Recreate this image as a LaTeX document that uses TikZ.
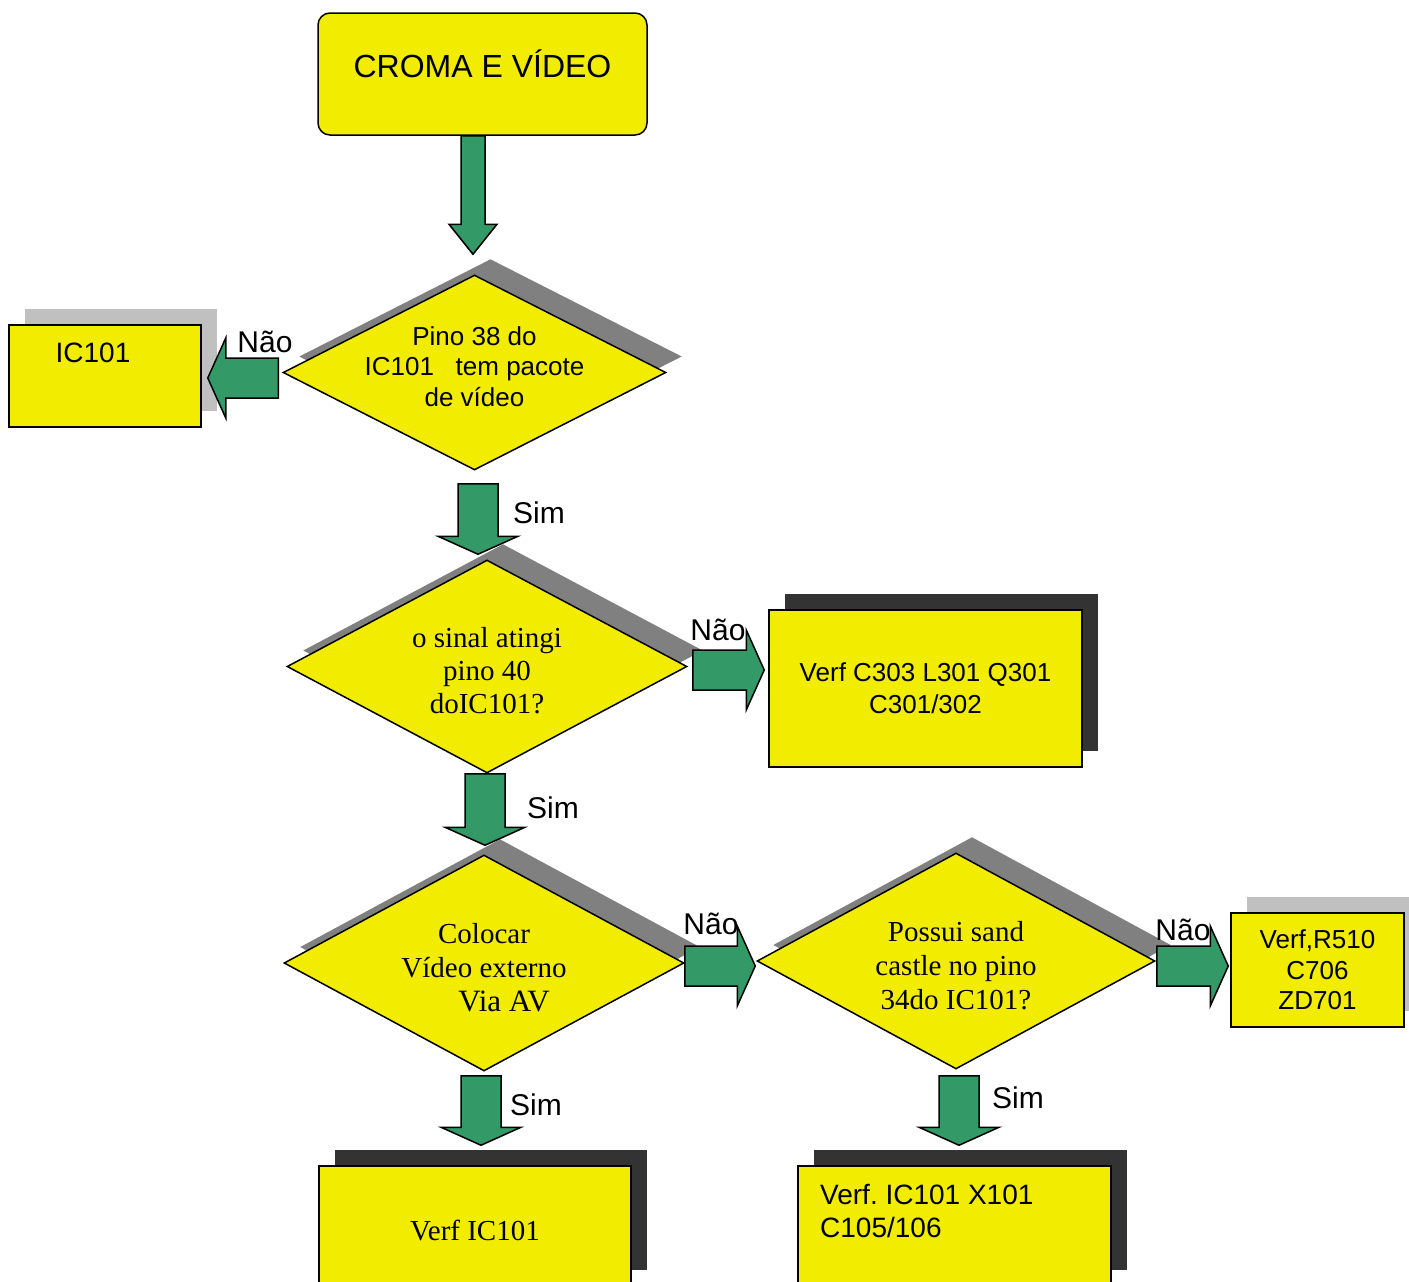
\documentclass[tikz,border=0pt]{standalone}
\usepackage{fontspec}
\setmainfont{Liberation Serif}
\setsansfont{Liberation Sans}
\usepackage{xcolor}
\usetikzlibrary{shapes.geometric,shadows,calc}

\definecolor{boxyellow}{RGB}{242,236,0}
\definecolor{arrowgreen}{RGB}{51,153,102}
\definecolor{shadelight}{RGB}{192,192,192}
\definecolor{shademid}{RGB}{128,128,128}
\definecolor{shadedark}{RGB}{51,51,51}

\newcommand\fatarrow[5]{%
  \coordinate (fabase) at ($(#2)!#5!(#1)$);
  \draw[greenarrow] ($(#1)!#3!90:(#2)$) -- ($(fabase)!#3!90:(#2)$)
    -- ($(fabase)!#4!90:(#2)$) -- (#2) -- ($(fabase)!#4!-90:(#2)$)
    -- ($(fabase)!#3!-90:(#2)$) -- ($(#1)!#3!-90:(#2)$) -- cycle;}

\begin{document}
\begin{tikzpicture}[
  x=1pt, y=-1pt,
  box/.style={draw, line width=1.5pt, fill=boxyellow, inner sep=0pt, align=center},
  question/.style={diamond, draw, line width=1.5pt, fill=boxyellow, inner sep=0pt,
    aspect=2, align=center},
  softshade/.style={drop shadow={shadow xshift=16pt, shadow yshift=16pt, fill=shadelight, opacity=1}},
  midshade/.style={drop shadow={shadow xshift=16pt, shadow yshift=16pt, fill=shademid, opacity=1}},
  darkshade/.style={drop shadow={shadow xshift=16pt, shadow yshift=16pt, fill=shadedark, opacity=1}},
  sanstext/.style={font=\sffamily\fontsize{26}{30.5}\selectfont},
  seriftext/.style={font=\fontsize{29}{33}\selectfont},
  answer/.style={font=\sffamily\fontsize{30}{36}\selectfont, inner sep=0pt},
  greenarrow/.style={draw, fill=arrowgreen, line width=1.5pt}
]
  \useasboundingbox (0,0) rectangle (1409,1282);
  \clip (0,0) rectangle (1409,1282);

  \node[box, rounded corners=12pt, minimum width=329pt, minimum height=122pt,
    font=\sffamily\fontsize{32}{38}\selectfont, text height=23pt, text depth=16pt]
    (croma) at (482.5,74) {CROMA E VÍDEO};

  \node[question, midshade, sanstext, minimum width=383pt, minimum height=195pt,
    inner sep=-10pt, text depth=12pt]
    (q1) at (474.5,372.5) {Pino 38 do\\IC101~~~tem pacote\\de vídeo};
  \node[box, softshade, minimum width=192pt, minimum height=102pt] (ic) at (105,376) {};
  \node[sanstext, font=\sffamily\fontsize{28}{33}\selectfont, inner sep=0pt]
    (ictext) at (93,353) {IC101};

  \node[question, midshade, seriftext, minimum width=400pt, minimum height=213pt,
    text height=94pt, text depth=0pt]
    (q2) at (487,666.5) {o sinal atingi\\pino 40\\doIC101?};
  \node[box, darkshade, sanstext, font=\sffamily\fontsize{26}{32}\selectfont,
    minimum width=313pt, minimum height=157pt]
    (c303) at (925.5,688.5) {Verf C303 L301 Q301\\C301/302};

  \node[question, midshade, seriftext, font=\fontsize{29}{34}\selectfont,
    minimum width=400pt, minimum height=216pt, text height=96pt, text depth=0pt]
    (q3) at (484,963) {Colocar\\Vídeo externo\\\hspace*{40pt}{\fontsize{31}{34}\selectfont Via AV}};
  \node[question, midshade, seriftext, font=\fontsize{29}{34}\selectfont,
    minimum width=398pt, minimum height=216pt, text height=96pt, text depth=0pt]
    (q4) at (956,961) {Possui sand\\castle no pino\\34do IC101?};
  \node[box, softshade, sanstext, minimum width=173pt, minimum height=114pt]
    (r510) at (1317.5,970) {Verf,R510\\C706\\ZD701};

  \node[box, darkshade, seriftext, minimum width=312pt, minimum height=120pt,
    text height=28pt, text depth=0pt]
    (vic) at (475,1226) {Verf IC101};
  \node[box, darkshade, minimum width=313pt, minimum height=120pt] (vx) at (954.5,1226) {};
  \node[font=\sffamily\fontsize{28}{33}\selectfont, inner sep=0pt, align=left,
    anchor=north west] (vxtext) at (820,1184) {Verf.\ IC101 X101\\C105/106};

  \coordinate (a1) at ($(croma.south)+(-9.5,0)$);
  \coordinate (a2) at ($(q1.north)+(-1.5,-20)$);
  \coordinate (b1) at ($(q1.west)+(-4,5.5)$);
  \coordinate (b2) at ($(ic.east)+(6,2)$);
  \coordinate (c1) at ($(q1.south)+(3.5,13)$);
  \coordinate (c2) at ($(q2.north)+(-9,-5)$);
  \coordinate (d1) at ($(q2.east)+(5,3.5)$);
  \coordinate (d2) at ($(c303.west)+(-4,-18.5)$);
  \coordinate (e1) at ($(q2.south)+(-2,0)$);
  \coordinate (e2) at ($(q3.north)+(1,-9)$);
  \coordinate (f1) at ($(q3.east)+(0,3)$);
  \coordinate (f2) at ($(q4.west)+(-1,5)$);
  \coordinate (g1) at ($(q4.east)+(1,5)$);
  \coordinate (g2) at ($(r510.west)+(-2,-4)$);
  \coordinate (h1) at ($(q3.south)+(-3,4)$);
  \coordinate (h2) at ($(vic.north)+(6,-20)$);
  \coordinate (i1) at ($(q4.south)+(3,6)$);
  \coordinate (i2) at ($(vx.north)+(4.5,-20)$);

  \fatarrow{a1}{a2}{12pt}{24pt}{30pt}
  \fatarrow{b1}{b2}{20pt}{40pt}{18pt}
  \fatarrow{c1}{c2}{20pt}{40pt}{18pt}
  \fatarrow{d1}{d2}{20pt}{40pt}{18pt}
  \fatarrow{e1}{e2}{20pt}{40pt}{18pt}
  \fatarrow{f1}{f2}{20pt}{40pt}{18pt}
  \fatarrow{g1}{g2}{20pt}{40pt}{18pt}
  \fatarrow{h1}{h2}{20pt}{40pt}{18pt}
  \fatarrow{i1}{i2}{20pt}{40pt}{18pt}

  \node[answer] (nao1) at (265,342) {Não};
  \node[answer] (sim1) at (539,513) {Sim};
  \node[answer] (nao2) at (718,630) {Não};
  \node[answer] (sim2) at (553,808) {Sim};
  \node[answer] (nao3) at (711,924) {Não};
  \node[answer] (nao4) at (1183,930) {Não};
  \node[answer] (sim3) at (536,1105) {Sim};
  \node[answer] (sim4) at (1018,1098) {Sim};
\end{tikzpicture}
\end{document}
